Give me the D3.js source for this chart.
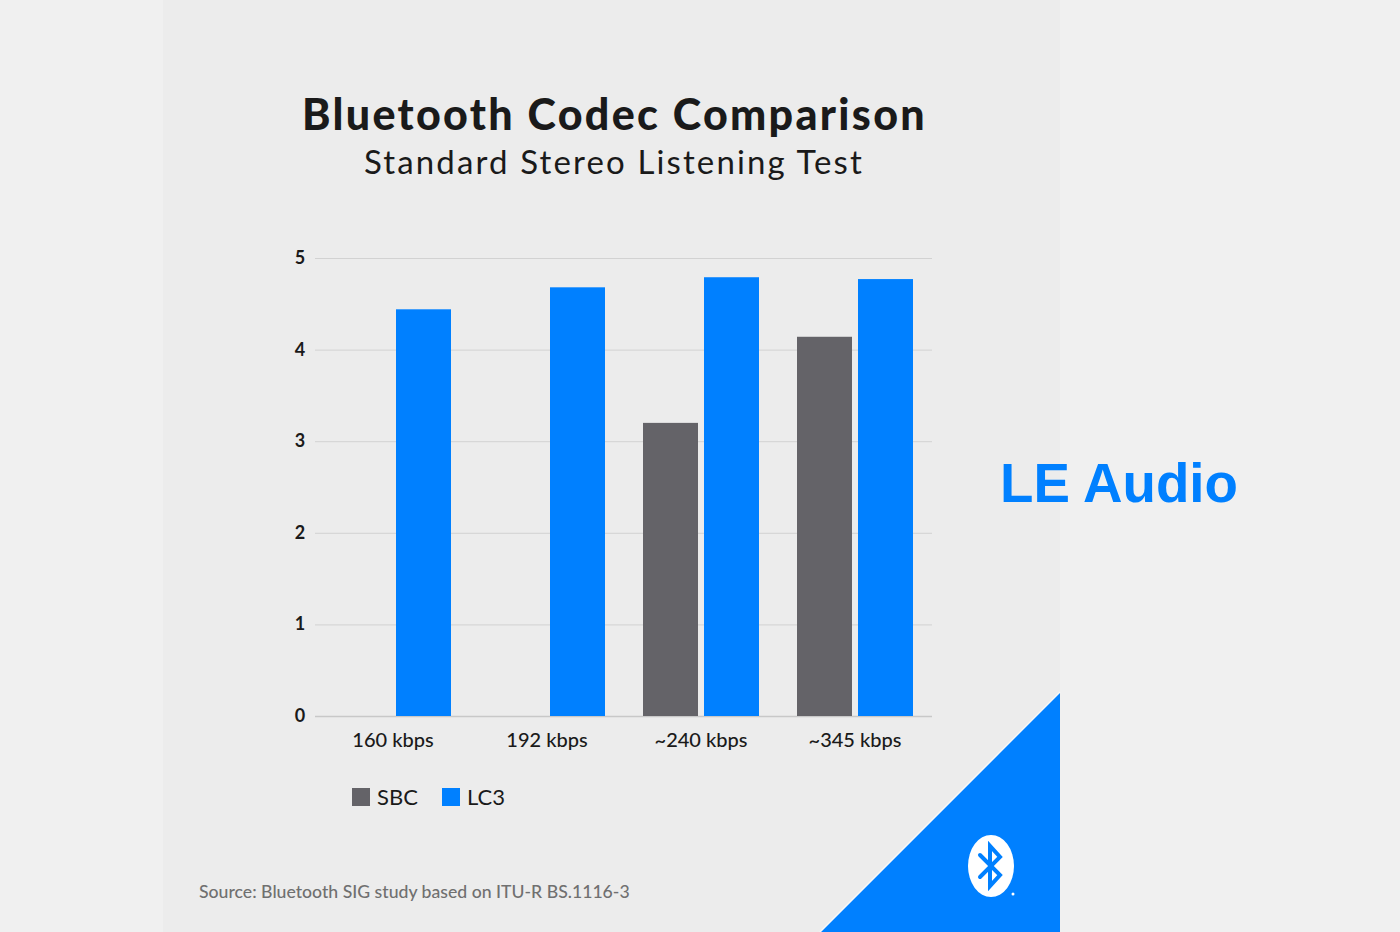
<!DOCTYPE html>
<html><head><meta charset="utf-8">
<script src="https://cdn.jsdelivr.net/npm/d3@7"></script>
<style>html,body{margin:0;padding:0;background:#f0f0f0;}svg{display:block;}</style>
</head><body>
<svg id="c" width="1400" height="932"></svg>
<script>
const categories = ["160 kbps", "192 kbps", "~240 kbps", "~345 kbps"];
const seriesNames = ["SBC", "LC3"];
const sbcValues = [null, null, 3.20, 4.14];
const lc3Values = [4.44, 4.68, 4.79, 4.77];
const yTicks = [0, 1, 2, 3, 4, 5];
const colors = {SBC: "#646368", LC3: "#0080ff"};

const svg = d3.select("#c");
svg.append("rect").attr("x",0).attr("y",0).attr("width",1400).attr("height",932).attr("fill","#f0f0f0");
svg.append("rect").attr("x",163).attr("y",0).attr("width",897).attr("height",932).attr("fill","#ececec");

const y = d3.scaleLinear().domain([0,5]).range([716,258]);
const x0 = d3.scaleBand().domain(categories).range([316,932]).paddingInner(38/154).paddingOuter(19/154);
const x1 = d3.scaleBand().domain(seriesNames).range([0, x0.bandwidth()]).paddingInner(6/61);

function fitSpacing(sel, w){
  const node = sel.node();
  const n = sel.text().length;
  const len = node.getComputedTextLength();
  sel.attr("letter-spacing", (w - len) / n);
}
function fitText(sel, w){
  const node = sel.node();
  const fs = parseFloat(sel.attr("font-size"));
  const len = node.getComputedTextLength();
  sel.attr("font-size", fs * w / len);
}

// title
const t1 = svg.append("text").attr("x",614.5).attr("y",130).attr("text-anchor","middle")
  .attr("font-family","Lato").attr("font-weight",900).attr("font-size",43).attr("fill","#1a1a1a")
  .text("Bluetooth Codec Comparison");
fitSpacing(t1, 625);
const t2 = svg.append("text").attr("x",614).attr("y",174).attr("text-anchor","middle")
  .attr("font-family","Lato").attr("font-weight",400).attr("font-size",33).attr("fill","#1a1a1a")
  .text("Standard Stereo Listening Test");
fitSpacing(t2, 500);

// grid
const grid = svg.append("g")
  .call(d3.axisLeft(y).tickValues(yTicks).tickSize(-(932-315)).tickFormat(""))
  .attr("transform","translate(315,0)");
grid.select(".domain").remove();
grid.selectAll(".tick line").attr("stroke","#d2d2d2").attr("stroke-width",1);
grid.selectAll(".tick").filter(d=>d===0).select("line").attr("stroke","#c8c8c8").attr("stroke-width",1.5);

// y labels
svg.append("g").selectAll("text").data(yTicks).join("text")
  .attr("x",300).attr("y",d=>y(d)+6).attr("text-anchor","middle")
  .attr("font-family","Lato").attr("font-weight",700).attr("font-size",18).attr("fill","#1a1a1a")
  .text(d=>d);

// bars
const rows = categories.map((c,i)=>({cat:c, vals:[{s:"SBC",v:sbcValues[i]},{s:"LC3",v:lc3Values[i]}]}));
const g = svg.append("g");
g.selectAll("g").data(rows).join("g")
  .attr("transform",d=>`translate(${x0(d.cat)},0)`)
  .selectAll("rect").data(d=>d.vals.filter(v=>v.v!=null)).join("rect")
  .attr("x",d=>x1(d.s)).attr("width",x1.bandwidth())
  .attr("y",d=>y(d.v)).attr("height",d=>y(0)-y(d.v))
  .attr("fill",d=>colors[d.s]);

// x labels
const xa = svg.append("g").attr("transform","translate(0,716)")
  .call(d3.axisBottom(x0).tickSize(0).tickPadding(0));
xa.select(".domain").remove();
xa.selectAll("text").attr("y",31).attr("dy",0).attr("font-family","Lato").attr("font-size",20)
  .attr("fill","#1a1a1a").attr("font-weight",500);

// legend
const leg = [{s:"SBC",x:352},{s:"LC3",x:442}];
const lg = svg.append("g");
lg.selectAll("rect").data(leg).join("rect").attr("x",d=>d.x).attr("y",788).attr("width",18).attr("height",18).attr("fill",d=>colors[d.s]);
lg.selectAll("text").data(leg).join("text").attr("x",d=>d.x+25).attr("y",805)
  .attr("font-family","Lato").attr("font-size",22).attr("fill","#1a1a1a").text(d=>d.s);

// source
const src = svg.append("text").attr("x",199).attr("y",898).attr("font-family","Lato").attr("font-size",16)
  .attr("font-weight",500).attr("fill","#707070").text("Source: Bluetooth SIG study based on ITU-R BS.1116-3");
fitText(src, 431);

// blue triangle
svg.append("path").attr("d","M1060,692 L1060,932 L820,932 Z").attr("fill","#0080ff");
svg.append("path").attr("d","M1060,692 L820,932").attr("stroke","#f8f8f8").attr("stroke-width",1.5);

// bluetooth logo
const lx = 991, ly = 866;
svg.append("ellipse").attr("cx",lx).attr("cy",ly).attr("rx",23).attr("ry",31).attr("fill","#ffffff");
svg.append("path")
  .attr("d",`M${lx-11},${ly-11} L${lx+9},${ly+9} L${lx-1},${ly+20} L${lx-1},${ly-20} L${lx+9},${ly-9} L${lx-11},${ly+11}`)
  .attr("fill","none").attr("stroke","#0080ff").attr("stroke-width",4).attr("stroke-linejoin","miter").attr("stroke-linecap","round");
svg.append("circle").attr("cx",lx+22).attr("cy",ly+28).attr("r",1.5).attr("fill","#ffffff");

// LE Audio
const le = svg.append("text").attr("x",1000).attr("y",502).attr("font-family","Liberation Sans, Arial")
  .attr("font-weight",700).attr("font-size",50).attr("fill","#0080ff").text("LE Audio");
fitText(le, 238);
</script>
</body></html>
